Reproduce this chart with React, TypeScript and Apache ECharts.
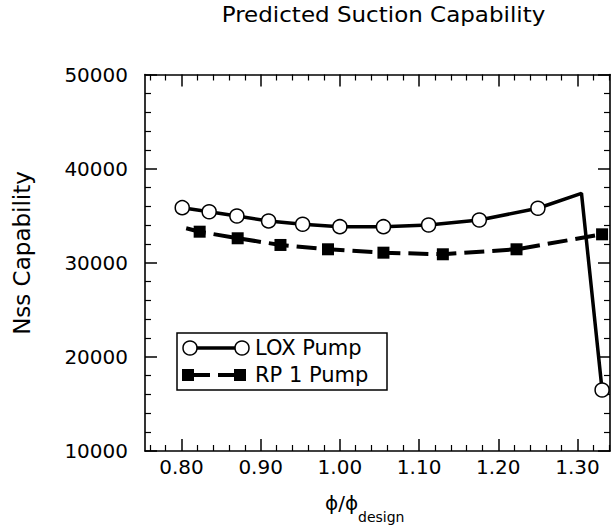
import React, { useEffect, useRef } from "react";
import * as echarts from "echarts";

// LOX pump (x = phi/phi_design, y = Nss capability); the peak point has no marker
const loxX = [0.801, 0.835, 0.87, 0.91, 0.953, 1.0, 1.055, 1.112, 1.176, 1.25, 1.305, 1.331];
const loxY = [35850, 35420, 34970, 34440, 34090, 33830, 33830, 34010, 34540, 35790, 37380, 16480];
const loxMarker = [true, true, true, true, true, true, true, true, true, true, false, true];

// RP 1 pump; the first point (line start) has no marker
const rpX = [0.806, 0.823, 0.871, 0.925, 0.985, 1.055, 1.13, 1.223, 1.331];
const rpY = [33660, 33300, 32600, 31890, 31430, 31070, 30900, 31430, 33020];
const rpMarker = [false, true, true, true, true, true, true, true, true];

const xMajorTicks = [0.8, 0.9, 1.0, 1.1, 1.2, 1.3];
const xMinorTicks = [
  0.76, 0.78, 0.82, 0.84, 0.86, 0.88, 0.92, 0.94, 0.96, 0.98, 1.02, 1.04, 1.06, 1.08,
  1.12, 1.14, 1.16, 1.18, 1.22, 1.24, 1.26, 1.28, 1.32, 1.34,
];
const xMin = 0.754;
const xMax = 1.341;
const yMin = 10000;
const yMax = 50000;
const yStep = 10000;

const titleText = "Predicted Suction Capability";
const yName = "Nss Capability";
const xNameMain = "ϕ/ϕ";
const xNameSub = "design";
const legendNames = ["LOX Pump", "RP 1 Pump"];

const FONT = "DejaVu Sans";

export default function App() {
  const ref = useRef<HTMLDivElement>(null);
  useEffect(() => {
    document.body.style.margin = "0";
    const chart = echarts.init(ref.current!, null, { renderer: "svg" });

    const loxData = loxX.map((x, i) =>
      loxMarker[i] ? { value: [x, loxY[i]] } : { value: [x, loxY[i]], symbol: "none" }
    );
    const rpData = rpX.map((x, i) =>
      rpMarker[i] ? { value: [x, rpY[i]] } : { value: [x, rpY[i]], symbol: "none" }
    );

    const baseX = {
      type: "value",
      min: xMin,
      max: xMax,
      splitLine: { show: false },
      axisLine: { show: true, onZero: false, lineStyle: { color: "#000", width: 1.6 } },
    };

    const xAxes: any[] = [
      {
        ...baseX,
        position: "bottom",
        axisTick: { show: true, inside: true, length: 12, customValues: xMajorTicks, lineStyle: { color: "#000", width: 1.5 } },
        axisLabel: {
          show: true,
          customValues: xMajorTicks,
          formatter: (v: number) => v.toFixed(2),
          color: "#000",
          fontFamily: FONT,
          fontSize: 20,
          margin: 6,
        },
      },
      {
        ...baseX,
        position: "bottom",
        axisLine: { show: false },
        axisTick: { show: true, inside: true, length: 6, customValues: xMinorTicks, lineStyle: { color: "#000", width: 1.2 } },
        axisLabel: { show: false },
      },
      {
        ...baseX,
        position: "top",
        axisTick: { show: true, inside: true, length: 12, customValues: xMajorTicks, lineStyle: { color: "#000", width: 1.5 } },
        axisLabel: { show: false },
      },
      {
        ...baseX,
        position: "top",
        axisLine: { show: false },
        axisTick: { show: true, inside: true, length: 6, customValues: xMinorTicks, lineStyle: { color: "#000", width: 1.2 } },
        axisLabel: { show: false },
      },
    ];

    const baseY = {
      type: "value",
      min: yMin,
      max: yMax,
      interval: yStep,
      splitLine: { show: false },
      axisLine: { show: true, onZero: false, lineStyle: { color: "#000", width: 1.6 } },
      axisTick: { show: true, inside: true, length: 12, lineStyle: { color: "#000", width: 1.5 } },
      minorTick: { show: true, splitNumber: 5, length: 6, lineStyle: { color: "#000", width: 1.2 } },
      minorSplitLine: { show: false },
    };

    const yAxes: any[] = [
      {
        ...baseY,
        position: "left",
        axisLabel: {
          show: true,
          color: "#000",
          fontFamily: FONT,
          fontSize: 20,
          margin: 17,
          formatter: (v: number) => String(v),
        },
      },
      { ...baseY, position: "right", axisLabel: { show: false } },
    ];

    const graphic: any[] = [
      {
        type: "text",
        x: 383.5,
        y: 15,
        scaleX: 1.095,
        style: { text: titleText, font: `21px "${FONT}"`, fill: "#000", align: "center", verticalAlign: "middle" },
      },
      {
        type: "text",
        x: 22,
        y: 253,
        rotation: Math.PI / 2,
        style: { text: yName, font: `23px "${FONT}"`, fill: "#000", align: "center", verticalAlign: "middle" },
      },
      {
        type: "text",
        x: 325,
        y: 503,
        style: { text: xNameMain, font: `20px "${FONT}"`, fill: "#000", align: "left", verticalAlign: "middle" },
      },
      {
        type: "text",
        x: 358,
        y: 517,
        style: { text: xNameSub, font: `14px "${FONT}"`, fill: "#000", align: "left", verticalAlign: "middle" },
      },
      // legend
      {
        type: "rect",
        shape: { x: 177, y: 333, width: 210, height: 57 },
        style: { fill: "#fff", stroke: "#000", lineWidth: 1.5 },
        z: 10,
      },
      {
        type: "line",
        shape: { x1: 190, y1: 348, x2: 242, y2: 348 },
        style: { stroke: "#000", lineWidth: 3.5 },
        z: 11,
      },
      { type: "circle", shape: { cx: 190, cy: 348, r: 7 }, style: { fill: "#fff", stroke: "#000", lineWidth: 1.5 }, z: 12 },
      { type: "circle", shape: { cx: 242, cy: 348, r: 7 }, style: { fill: "#fff", stroke: "#000", lineWidth: 1.5 }, z: 12 },
      {
        type: "text",
        x: 255,
        y: 348,
        style: { text: legendNames[0], font: `21px "${FONT}"`, fill: "#000", align: "left", verticalAlign: "middle" },
        z: 12,
      },
      {
        type: "line",
        shape: { x1: 188, y1: 375, x2: 240, y2: 375 },
        style: { stroke: "#000", lineWidth: 4, lineDash: [16, 8], lineDashOffset: -6 },
        z: 11,
      },
      { type: "rect", shape: { x: 182, y: 369, width: 12, height: 12 }, style: { fill: "#000" }, z: 12 },
      { type: "rect", shape: { x: 234, y: 369, width: 12, height: 12 }, style: { fill: "#000" }, z: 12 },
      {
        type: "text",
        x: 255,
        y: 375,
        style: { text: legendNames[1], font: `21px "${FONT}"`, fill: "#000", align: "left", verticalAlign: "middle" },
        z: 12,
      },
    ];

    chart.setOption({
      animation: false,
      backgroundColor: "#fff",
      textStyle: { fontFamily: FONT },
      grid: { left: 145, right: 6, top: 74.5, bottom: 76, outerBoundsMode: "none" },
      xAxis: xAxes,
      yAxis: yAxes,
      series: [
        {
          name: legendNames[0],
          type: "line",
          xAxisIndex: 0,
          yAxisIndex: 0,
          data: loxData,
          symbol: "circle",
          symbolSize: 14,
          showAllSymbol: true,
          itemStyle: { color: "#fff", borderColor: "#000", borderWidth: 1.5 },
          lineStyle: { color: "#000", width: 3.5 },
          z: 3,
        },
        {
          name: legendNames[1],
          type: "line",
          xAxisIndex: 0,
          yAxisIndex: 0,
          data: rpData,
          symbol: "rect",
          symbolSize: 12,
          showAllSymbol: true,
          itemStyle: { color: "#000" },
          lineStyle: { color: "#000", width: 4, type: [20, 8] },
          z: 2,
        },
      ],
      graphic,
    });
    return () => chart.dispose();
  }, []);
  return <div ref={ref} style={{ width: 616, height: 527 }} />;
}
